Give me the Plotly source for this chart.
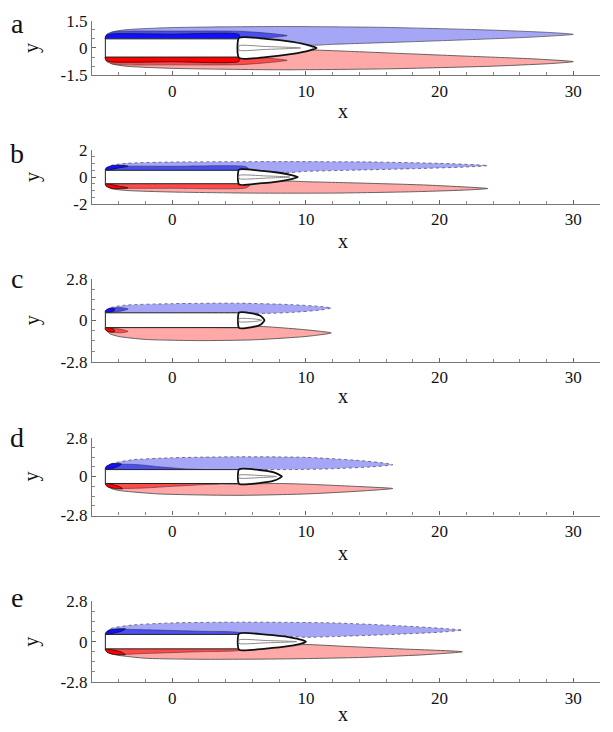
import plotly.graph_objects as go

W, H = 613, 732

# ---------------- data ----------------
PANELS = ["a", "b", "c", "d", "e"]
X_RANGE = [-6, 32]
X_TICKS = [0, 10, 20, 30]
Y_RANGES = {"a": [-1.5, 1.5], "b": [-2, 2], "c": [-2.8, 2.8], "d": [-2.8, 2.8], "e": [-2.8, 2.8]}
Y_TICKS = {"a": [-1.5, 0, 1.5], "b": [-2, 0, 2], "c": [-2.8, 0, 2.8], "d": [-2.8, 0, 2.8], "e": [-2.8, 0, 2.8]}
Y_TICKTEXT = {"a": ["-1.5", "0", "1.5"], "b": ["-2", "0", "2"], "c": ["-2.8", "0", "2.8"],
              "d": ["-2.8", "0", "2.8"], "e": ["-2.8", "0", "2.8"]}

PLATE = [(-5, -0.5), (5, -0.5), (5, 0.5), (-5, 0.5), (-5, -0.5)]

# panel a
a_light_blue = [(-5, 0.55), (-4.6, 0.85), (-3.5, 1.0), (0, 1.12), (8, 1.18), (16, 1.13), (24, 0.98), (28.5, 0.84), (30, 0.75),
                (27, 0.6), (22, 0.45), (17, 0.32), (12, 0.2), (10.5, 0.15), (8, 0.32), (6, 0.48), (5, 0.5), (-5, 0.5)]
a_light_red = [(-5, -0.55), (-4.6, -0.85), (-3.5, -1.0), (0, -1.12), (8, -1.2), (16, -1.15), (24, -1.0), (28.5, -0.85), (30, -0.75),
               (27, -0.6), (22, -0.45), (17, -0.3), (12, -0.15), (10.5, -0.12), (8, -0.3), (6, -0.46), (5, -0.5), (-5, -0.5)]
a_mid_blue = [(-5, 0.5), (-4.9, 0.75), (-4.3, 0.9), (0, 0.93), (5, 0.92), (7, 0.82), (8.6, 0.68), (7, 0.55), (5, 0.5)]
a_mid_red = [(-5, -0.5), (-4.9, -0.75), (-4.3, -0.9), (0, -0.93), (5, -0.92), (7, -0.82), (8.6, -0.68), (7, -0.55), (5, -0.5)]
a_dark_blue = [(-5, 0.5), (-4.95, 0.68), (-4.5, 0.77), (0, 0.76), (5, 0.74), (5, 0.5)]
a_dark_red = [(-5, -0.5), (-4.95, -0.68), (-4.5, -0.77), (0, -0.76), (5, -0.74), (5, -0.5)]
a_wake = [(5, 0.55), (7, 0.5), (9, 0.33), (10.3, 0.13), (10.8, 0), (10.3, -0.13), (9, -0.33), (7, -0.5), (5, -0.55)]
a_core = [(5, 0.12), (7, 0.08), (9.6, 0), (7, -0.08), (5, -0.12)]

# panel b
b_light_blue = [(-5, 0.55), (-4.6, 0.85), (-3.5, 1.02), (0, 1.12), (8, 1.15), (15, 1.12), (20, 1.02), (23, 0.9), (23.6, 0.85),
                (22, 0.75), (18, 0.62), (13, 0.5), (10, 0.42), (8.5, 0.32), (7, 0.45), (5.5, 0.55), (5, 0.5), (-5, 0.5)]
b_light_red = [(-5, -0.55), (-4.6, -0.85), (-3.5, -1.0), (0, -1.12), (6, -1.2), (12, -1.2), (18, -1.1), (22, -0.97), (23.6, -0.86),
               (19, -0.6), (14, -0.45), (10, -0.35), (8.5, -0.3), (6.5, -0.45), (5, -0.55), (-5, -0.5)]
b_mid_blue = [(-5, 0.5), (-4.8, 0.72), (-4, 0.8), (0, 0.8), (5.5, 0.78), (5.7, 0.6), (5, 0.5)]
b_mid_red = [(-5, -0.5), (-4.8, -0.74), (-4, -0.83), (0, -0.84), (5.5, -0.82), (5.8, -0.62), (5, -0.5)]
b_dark_blue = [(-5, 0.5), (-4.95, 0.68), (-4.5, 0.85), (-3.6, 0.86), (-3.3, 0.8), (-4, 0.68), (-4.6, 0.55)]
b_dark_red = [(-5, -0.5), (-4.95, -0.68), (-4.5, -0.85), (-3.6, -0.86), (-3.3, -0.8), (-4, -0.68), (-4.6, -0.55)]
b_wake = [(5, 0.55), (6.5, 0.48), (8, 0.32), (9, 0.13), (9.4, 0), (9, -0.13), (8, -0.32), (6.5, -0.48), (5, -0.55)]
b_core = [(5, 0.12), (7, 0.08), (8.8, 0), (7, -0.08), (5, -0.12)]

# panel c
c_light_blue = [(-5, 0.55), (-4.6, 0.85), (-3.5, 1.02), (0, 1.12), (5, 1.15), (9, 1.05), (11.2, 0.92), (11.9, 0.82),
                (11, 0.68), (9, 0.53), (7, 0.46), (5, 0.5), (-5, 0.5)]
c_light_red = [(-5, -0.55), (-4.7, -0.9), (-4, -1.1), (-2, -1.3), (2, -1.38), (6, -1.33), (10, -1.1), (11.9, -0.86),
               (10, -0.65), (8, -0.5), (6.5, -0.42), (5, -0.5), (-5, -0.5)]
c_mid_blue = [(-5, 0.5), (-4.9, 0.7), (-4.5, 0.82), (-3.8, 0.85), (-3.3, 0.76), (-3.8, 0.62), (-5, 0.5)]
c_mid_red = [(-5, -0.5), (-4.9, -0.7), (-4.5, -0.82), (-3.8, -0.85), (-3.3, -0.76), (-3.8, -0.62), (-5, -0.5)]
c_dark_blue = [(-5, 0.5), (-5, 0.65), (-4.7, 0.8), (-4.3, 0.76), (-4.4, 0.6), (-4.8, 0.5)]
c_dark_red = [(-5, -0.5), (-5, -0.65), (-4.7, -0.8), (-4.3, -0.76), (-4.4, -0.6), (-4.8, -0.5)]
c_wake = [(5, 0.52), (6, 0.46), (6.6, 0.3), (6.9, 0), (6.6, -0.3), (6, -0.46), (5, -0.52)]
c_core = [(5, 0.1), (6.2, 0.08), (6.7, 0), (6.2, -0.08), (5, -0.1)]

# panel d
d_light_blue = [(-5, 0.55), (-4.6, 0.9), (-3, 1.2), (0, 1.35), (5, 1.42), (10, 1.38), (14, 1.15), (16, 0.95), (16.5, 0.85),
                (15, 0.7), (12, 0.56), (9, 0.5), (6.5, 0.5), (5, 0.5), (-5, 0.5)]
d_light_red = [(-5, -0.55), (-4.6, -0.85), (-4, -1.0), (-1, -1.25), (5, -1.35), (10, -1.25), (14, -1.05), (16.5, -0.86),
               (14, -0.72), (10, -0.55), (8, -0.5), (6.5, -0.52), (5, -0.55), (-5, -0.5)]
d_mid_blue = [(-5, 0.5), (-4.8, 0.75), (-4, 0.88), (-2.5, 0.85), (-1, 0.7), (1, 0.55), (2.5, 0.5)]
d_mid_red = [(-5, -0.5), (-4.8, -0.72), (-4, -0.85), (-2, -0.82), (0, -0.7), (2, -0.6), (3.5, -0.52), (-5, -0.5)]
d_dark_blue = [(-5, 0.5), (-4.95, 0.72), (-4.5, 0.92), (-3.8, 0.9), (-4.1, 0.7), (-4.6, 0.55)]
d_dark_red = [(-5, -0.5), (-4.9, -0.7), (-4.4, -0.85), (-3.7, -0.88), (-4, -0.7), (-4.6, -0.55)]
d_wake = [(5, 0.52), (6.5, 0.47), (7.6, 0.3), (8.2, 0), (7.6, -0.3), (6.5, -0.47), (5, -0.52)]
d_core = [(5, 0.1), (6.5, 0.08), (7.8, 0), (6.5, -0.08), (5, -0.1)]

# panel e
e_light_blue = [(-5, 0.55), (-4.6, 0.9), (-3, 1.15), (0, 1.3), (5, 1.35), (12, 1.3), (17, 1.1), (20.5, 0.9), (21.7, 0.8),
                (20, 0.65), (16, 0.48), (12, 0.35), (10, 0.3), (8, 0.42), (6, 0.5), (5, 0.55), (-5, 0.5)]
e_light_red = [(-5, -0.55), (-4.7, -0.8), (-4, -0.95), (-2, -1.15), (2, -1.22), (8, -1.2), (14, -1.1), (19, -0.9), (21.7, -0.7),
               (17, -0.5), (13, -0.33), (10, -0.2), (9, -0.25), (7, -0.42), (5, -0.55), (-5, -0.5)]
e_mid_blue = [(-5, 0.5), (-4.8, 0.75), (-4, 0.85), (-2, 0.82), (2, 0.72), (5, 0.62), (5, 0.5)]
e_mid_red = [(-5, -0.5), (-4.8, -0.75), (-4, -0.88), (-2, -0.82), (2, -0.7), (5, -0.6), (5, -0.5)]
e_dark_blue = [(-5, 0.5), (-4.9, 0.7), (-4.4, 0.85), (-3.5, 0.88), (-3.8, 0.72), (-4.6, 0.55)]
e_dark_red = [(-5, -0.5), (-4.9, -0.72), (-4.4, -0.88), (-3.5, -0.9), (-3.8, -0.72), (-4.6, -0.55)]
e_wake = [(5, 0.55), (7, 0.48), (8.8, 0.3), (9.7, 0.12), (10, 0), (9.7, -0.12), (8.8, -0.3), (7, -0.48), (5, -0.55)]
e_core = [(5, 0.12), (7, 0.08), (9.3, 0), (7, -0.08), (5, -0.12)]

SHAPES = {
    "a": (a_light_blue, a_light_red, a_mid_blue, a_mid_red, a_dark_blue, a_dark_red, a_wake, a_core),
    "b": (b_light_blue, b_light_red, b_mid_blue, b_mid_red, b_dark_blue, b_dark_red, b_wake, b_core),
    "c": (c_light_blue, c_light_red, c_mid_blue, c_mid_red, c_dark_blue, c_dark_red, c_wake, c_core),
    "d": (d_light_blue, d_light_red, d_mid_blue, d_mid_red, d_dark_blue, d_dark_red, d_wake, d_core),
    "e": (e_light_blue, e_light_red, e_mid_blue, e_mid_red, e_dark_blue, e_dark_red, e_wake, e_core),
}

# ---------------- styling / layout ----------------
LIGHT_BLUE = "#a6a6f7"
LIGHT_RED = "#ffa8a8"
MID_BLUE = "#4a4ff0"
MID_RED = "#ff4a4a"
DARK_BLUE = "#1010ff"
DARK_RED = "#ff0000"
FONT = "Liberation Serif, Times New Roman, serif"

# pixel boxes of each panel: (top, bottom)
PANEL_PX = {"a": (12, 68), "b": (145, 200), "c": (277, 362), "d": (440, 520), "e": (608, 691)}
X_PX = (92, 600)
LETTER_PX = {"a": 15, "b": 148, "c": 277, "d": 440, "e": 604}
XTITLE_PX = {"a": 105, "b": 238, "c": 397, "d": 558, "e": 724}


def px2x(p):
    return p / W


def px2y(p):
    return 1 - p / H


fig = go.Figure()


def add_poly(pts, idx, fill, line_color, width, dash="solid"):
    xs = [p[0] for p in pts] + [pts[0][0]]
    ys = [p[1] for p in pts] + [pts[0][1]]
    fig.add_trace(go.Scatter(
        x=xs, y=ys, mode="lines", fill="toself" if fill else None,
        fillcolor=fill, line=dict(color=line_color, width=width, dash=dash, shape="spline", smoothing=0.6),
        xaxis="x" + ("" if idx == 1 else str(idx)), yaxis="y" + ("" if idx == 1 else str(idx)),
        hoverinfo="skip", showlegend=False))


annotations = []
layout_axes = {}
for i, p in enumerate(PANELS, start=1):
    lb, lr, mb, mr, db, dr, wake, core = SHAPES[p]
    blue_dash = "solid" if p == "a" else "dot"
    add_poly(lb, i, LIGHT_BLUE, "#555566", 0.8, blue_dash)
    add_poly(lr, i, LIGHT_RED, "#555555", 0.9)
    add_poly(mb, i, MID_BLUE, "#333355", 0.6)
    add_poly(mr, i, MID_RED, "#553333", 0.6)
    add_poly(db, i, DARK_BLUE, "#111133", 0.8)
    add_poly(dr, i, DARK_RED, "#221111", 0.8)
    # plate
    fig.add_trace(go.Scatter(
        x=[q[0] for q in PLATE], y=[q[1] for q in PLATE], mode="lines", fill="toself",
        fillcolor="white", line=dict(color="#222222", width=1),
        xaxis="x" + ("" if i == 1 else str(i)), yaxis="y" + ("" if i == 1 else str(i)),
        hoverinfo="skip", showlegend=False))
    add_poly(wake, i, "white", "#111111", 1.8)
    add_poly(core, i, None, "#888888", 1.0)

    top, bot = PANEL_PX[p]
    xa = "xaxis" + ("" if i == 1 else str(i))
    ya = "yaxis" + ("" if i == 1 else str(i))
    yr = Y_RANGES[p]
    layout_axes[xa] = dict(
        domain=[px2x(X_PX[0]), px2x(X_PX[1])], range=X_RANGE, anchor="y" + ("" if i == 1 else str(i)),
        tickvals=X_TICKS, ticktext=[str(v) for v in X_TICKS], ticks="inside", ticklen=4, tickcolor="#666",
        showline=True, linecolor="#777", linewidth=1.2, showgrid=False, zeroline=False,
        tickfont=dict(family=FONT, size=17, color="#111"),
        minor=dict(dtick=2, tick0=0, ticks="inside", ticklen=3, tickcolor="#888"),
    )
    layout_axes[ya] = dict(
        domain=[px2y(bot), px2y(top)], range=yr, anchor="x" + ("" if i == 1 else str(i)),
        tickvals=Y_TICKS[p], ticktext=Y_TICKTEXT[p], ticks="inside", ticklen=4, tickcolor="#666",
        showline=True, linecolor="#777", linewidth=1.2, showgrid=False, zeroline=False,
        tickfont=dict(family=FONT, size=17, color="#111"),
        minor=dict(dtick=(0.5 if p in ("a", "b") else 0.7), tick0=0, ticks="inside", ticklen=3, tickcolor="#888"),
    )
    annotations.append(dict(text=p, x=px2x(17), y=px2y(LETTER_PX[p]), xref="paper", yref="paper",
                            xanchor="center", yanchor="middle",
                            showarrow=False, font=dict(family=FONT, size=28, color="#111")))
    annotations.append(dict(text="x", x=px2x(343), y=px2y(XTITLE_PX[p]), xref="paper", yref="paper",
                            xanchor="center", yanchor="middle",
                            showarrow=False, font=dict(family=FONT, size=20, color="#111")))
    zero_px = top + (bot - top) * (yr[1] - 0) / (yr[1] - yr[0])
    annotations.append(dict(text="y", x=px2x(32), y=px2y(zero_px), xref="paper", yref="paper",
                            xanchor="center", yanchor="middle",
                            showarrow=False, textangle=-90, font=dict(family=FONT, size=20, color="#111")))

fig.update_layout(
    width=W, height=H, margin=dict(l=0, r=0, t=0, b=0),
    paper_bgcolor="white", plot_bgcolor="white",
    annotations=annotations, showlegend=False,
    **layout_axes,
)

fig.write_html("out.html")
